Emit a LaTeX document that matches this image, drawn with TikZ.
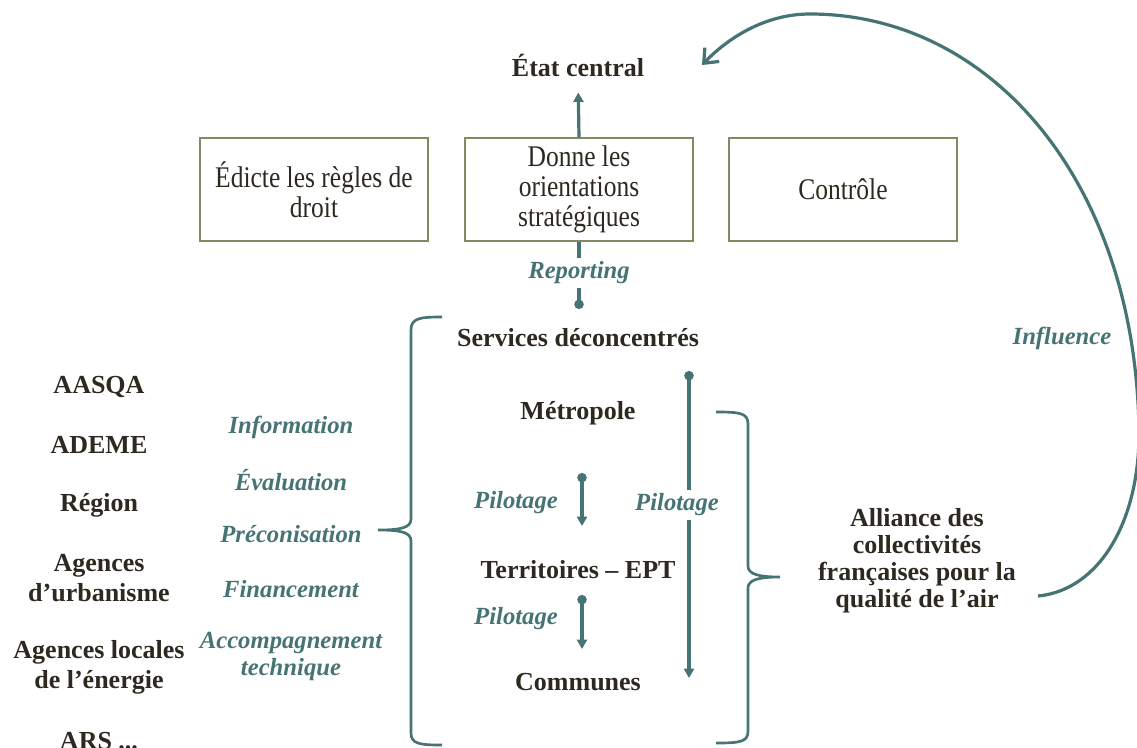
\documentclass[tikz,border=0pt]{standalone}
\usepackage{fontspec}
\setmainfont{Liberation Serif}
\newfontfamily\boxfont[FakeStretch=0.85]{Liberation Serif}
\usetikzlibrary{arrows.meta}
\definecolor{teal1}{RGB}{70,115,115}
\definecolor{ink}{RGB}{45,41,33}
\definecolor{boxline}{RGB}{137,134,99}
\begin{document}
\begin{tikzpicture}[x=0.75pt,y=-0.75pt,
  lbl/.style={font=\fontsize{19.5}{22.5}\selectfont\bfseries, text=ink, align=center, inner sep=0pt},
  act/.style={font=\fontsize{18.5}{20.5}\selectfont\bfseries\itshape, text=teal1, align=center, inner sep=0pt},
  pil/.style={act, fill=white, inner sep=3pt},
  boxnode/.style={draw=boxline, line width=1.3pt, minimum width=171pt, minimum height=77pt,
    font=\boxfont\fontsize{22.5}{22.5}\selectfont, text=ink, align=center, inner sep=0pt},
  conn/.style={draw=teal1, line width=2.4pt},
  dotarrow/.style={{Circle[length=7pt]}-{Triangle[length=7pt,width=7.5pt]}},
  brace/.style={draw=teal1, line width=2pt},
]
\useasboundingbox (0,0) rectangle (1137,747);

% top
\node[lbl] (etat) at (578,65) {État central};
\node[boxnode] (b1) at (314,189.5) {Édicte les règles de\\droit};
\node[boxnode] (b2) at (579,189.5) {Donne les\\orientations\\stratégiques};
\node[boxnode] (b3) at (843,189.5) {Contrôle};
\draw[conn, -{Triangle[length=7pt,width=7.5pt]}, shorten >=12pt] (b2.north) -- (etat.south);

% reporting
\coordinate (d0) at (579,309);
\draw[conn, {Circle[length=7pt]}-] (d0) -- (b2.south);
\node[pil] (rep) at (579,273) {Reporting};

% central column
\node[lbl] (serv) at (578,338) {Services déconcentrés};
\node[lbl] (metro) at (578,413) {Métropole};
\node[lbl] (terr) at (578,570) {Territoires – EPT};
\node[lbl] (comm) at (578,682) {Communes};

\coordinate (l0) at (689,371);
\coordinate (l1) at (689,678);
\draw[conn, dotarrow] (l0) -- (l1);
\node[pil] (pil3) at (677,505) {Pilotage};

\coordinate (p1s) at (582,473);
\coordinate (p1e) at (582,526);
\draw[conn, dotarrow] (p1s) -- (p1e);
\node[act] (pil1) at (516,503) {Pilotage};

\coordinate (p2s) at (582,595);
\coordinate (p2e) at (582,649);
\draw[conn, dotarrow] (p2s) -- (p2e);
\node[act] (pil2) at (516,619) {Pilotage};

% left column
\node[lbl] (aasqa) at (99,387) {AASQA};
\node[lbl] (ademe) at (99,445) {ADEME};
\node[lbl] (region) at (99,505) {Région};
\node[lbl] (agurb) at (99,578) {Agences\\d’urbanisme};
\node[lbl] (agloc) at (99,667.5) {Agences locales\\de l’énergie};
\node[lbl] (ars) at (99,741) {ARS ...};

% actions
\node[act] (info) at (291,427) {Information};
\node[act] (eval) at (291,480) {Évaluation};
\node[act] (prec) at (291,534) {Préconisation};
\node[act] (fin) at (291,589) {Financement};
\node[act] (acc) at (291,656.5) {Accompagnement\\technique};

% left brace
\draw[brace] (442,317) .. controls (420,317) and (411,318) .. (411,330)
  -- (411,519) .. controls (411,528) and (400,530) .. (378,530)
  .. controls (400,530) and (411,532) .. (411,541)
  -- (411,733) .. controls (411,744) and (420,745) .. (442,745);

% right brace
\draw[brace] (716,412) .. controls (740,412) and (748,413) .. (748,424)
  -- (748,566) .. controls (748,574) and (758,577) .. (780,577)
  .. controls (758,577) and (748,580) .. (748,588)
  -- (748,731) .. controls (748,742) and (740,743) .. (716,743);

% alliance
\node[lbl, font=\fontsize{19.5}{20.3}\selectfont\bfseries] (alli) at (917,561) {Alliance des\\collectivités\\françaises pour la\\qualité de l’air};

% influence
\coordinate (inf0) at (1038,596);
\coordinate (inf1) at (1139,430);
\coordinate (inftop) at (810,14);
\coordinate (inf2) at (702,65);
\draw[conn, -{Straight Barb[length=9pt,width=15pt,line width=2.4pt]}]
  (inf0) .. controls (1100,590) and (1140,520) .. (inf1)
  .. controls (1135,180) and (990,14) .. (inftop)
  .. controls (765,14) and (728,38) .. (inf2);
\node[act] (infl) at (1062,338) {Influence};
\end{tikzpicture}
\end{document}
